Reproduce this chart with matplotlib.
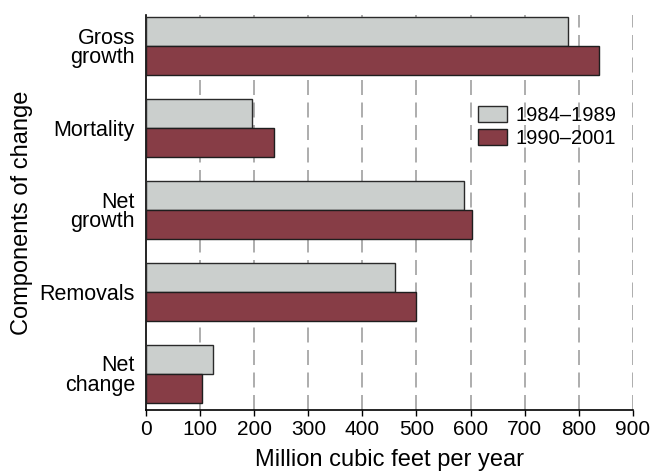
import numpy as np
import matplotlib
matplotlib.use("Agg")
import matplotlib.pyplot as plt

plt.rcParams["font.family"] = ["Liberation Sans", "DejaVu Sans"]

categories = ["Gross\ngrowth", "Mortality", "Net\ngrowth", "Removals", "Net\nchange"]
period_a = [781, 196, 587, 461, 124]   # 1984-1989
period_b = [838, 236, 602, 499, 103]   # 1990-2001
labels = ["1984\u20131989", "1990\u20132001"]
xticks = [0, 100, 200, 300, 400, 500, 600, 700, 800, 900]

gray = "#cbcfcd"
red = "#873d46"

fig = plt.figure(figsize=(6.64, 4.74), dpi=100)
ax = fig.add_axes([0.22, 0.135, 0.733, 0.833])

y = np.arange(len(categories))
h = 0.35
ax.barh(y - h / 2, period_a, height=h, color=gray, edgecolor="#2a2a2a",
        linewidth=1.0, label=labels[0], zorder=3)
ax.barh(y + h / 2, period_b, height=h, color=red, edgecolor="#1e1e1e",
        linewidth=1.0, label=labels[1], zorder=3)

ax.set_ylim(4.44, -0.378)
ax.set_xlim(0, 900)
ax.set_xticks(xticks)
ax.set_yticks(y)
ax.set_yticklabels(categories, fontsize=15.5, linespacing=0.9)
ax.tick_params(axis="y", length=0, pad=8)
ax.tick_params(axis="x", labelsize=15, length=4, direction="out", width=1)

for x in xticks[1:]:
    ax.axvline(x, color="#a0a0a0", linestyle=(0, (9, 4.5)), linewidth=1.2, zorder=1)

for s in ["top", "right"]:
    ax.spines[s].set_visible(False)
ax.spines["left"].set_linewidth(1.2)
ax.spines["bottom"].set_linewidth(1.2)

ax.set_xlabel("Million cubic feet per year", fontsize=17, labelpad=7)
ax.set_ylabel("Components of change", fontsize=17, labelpad=5)

ax.legend(loc="upper left", bbox_to_anchor=(0.665, 0.79), frameon=False,
          fontsize=14.5, handlelength=1.45, handleheight=0.8, handletextpad=0.4,
          labelspacing=0.2, borderaxespad=0)

fig.savefig("out.png", dpi=100)
